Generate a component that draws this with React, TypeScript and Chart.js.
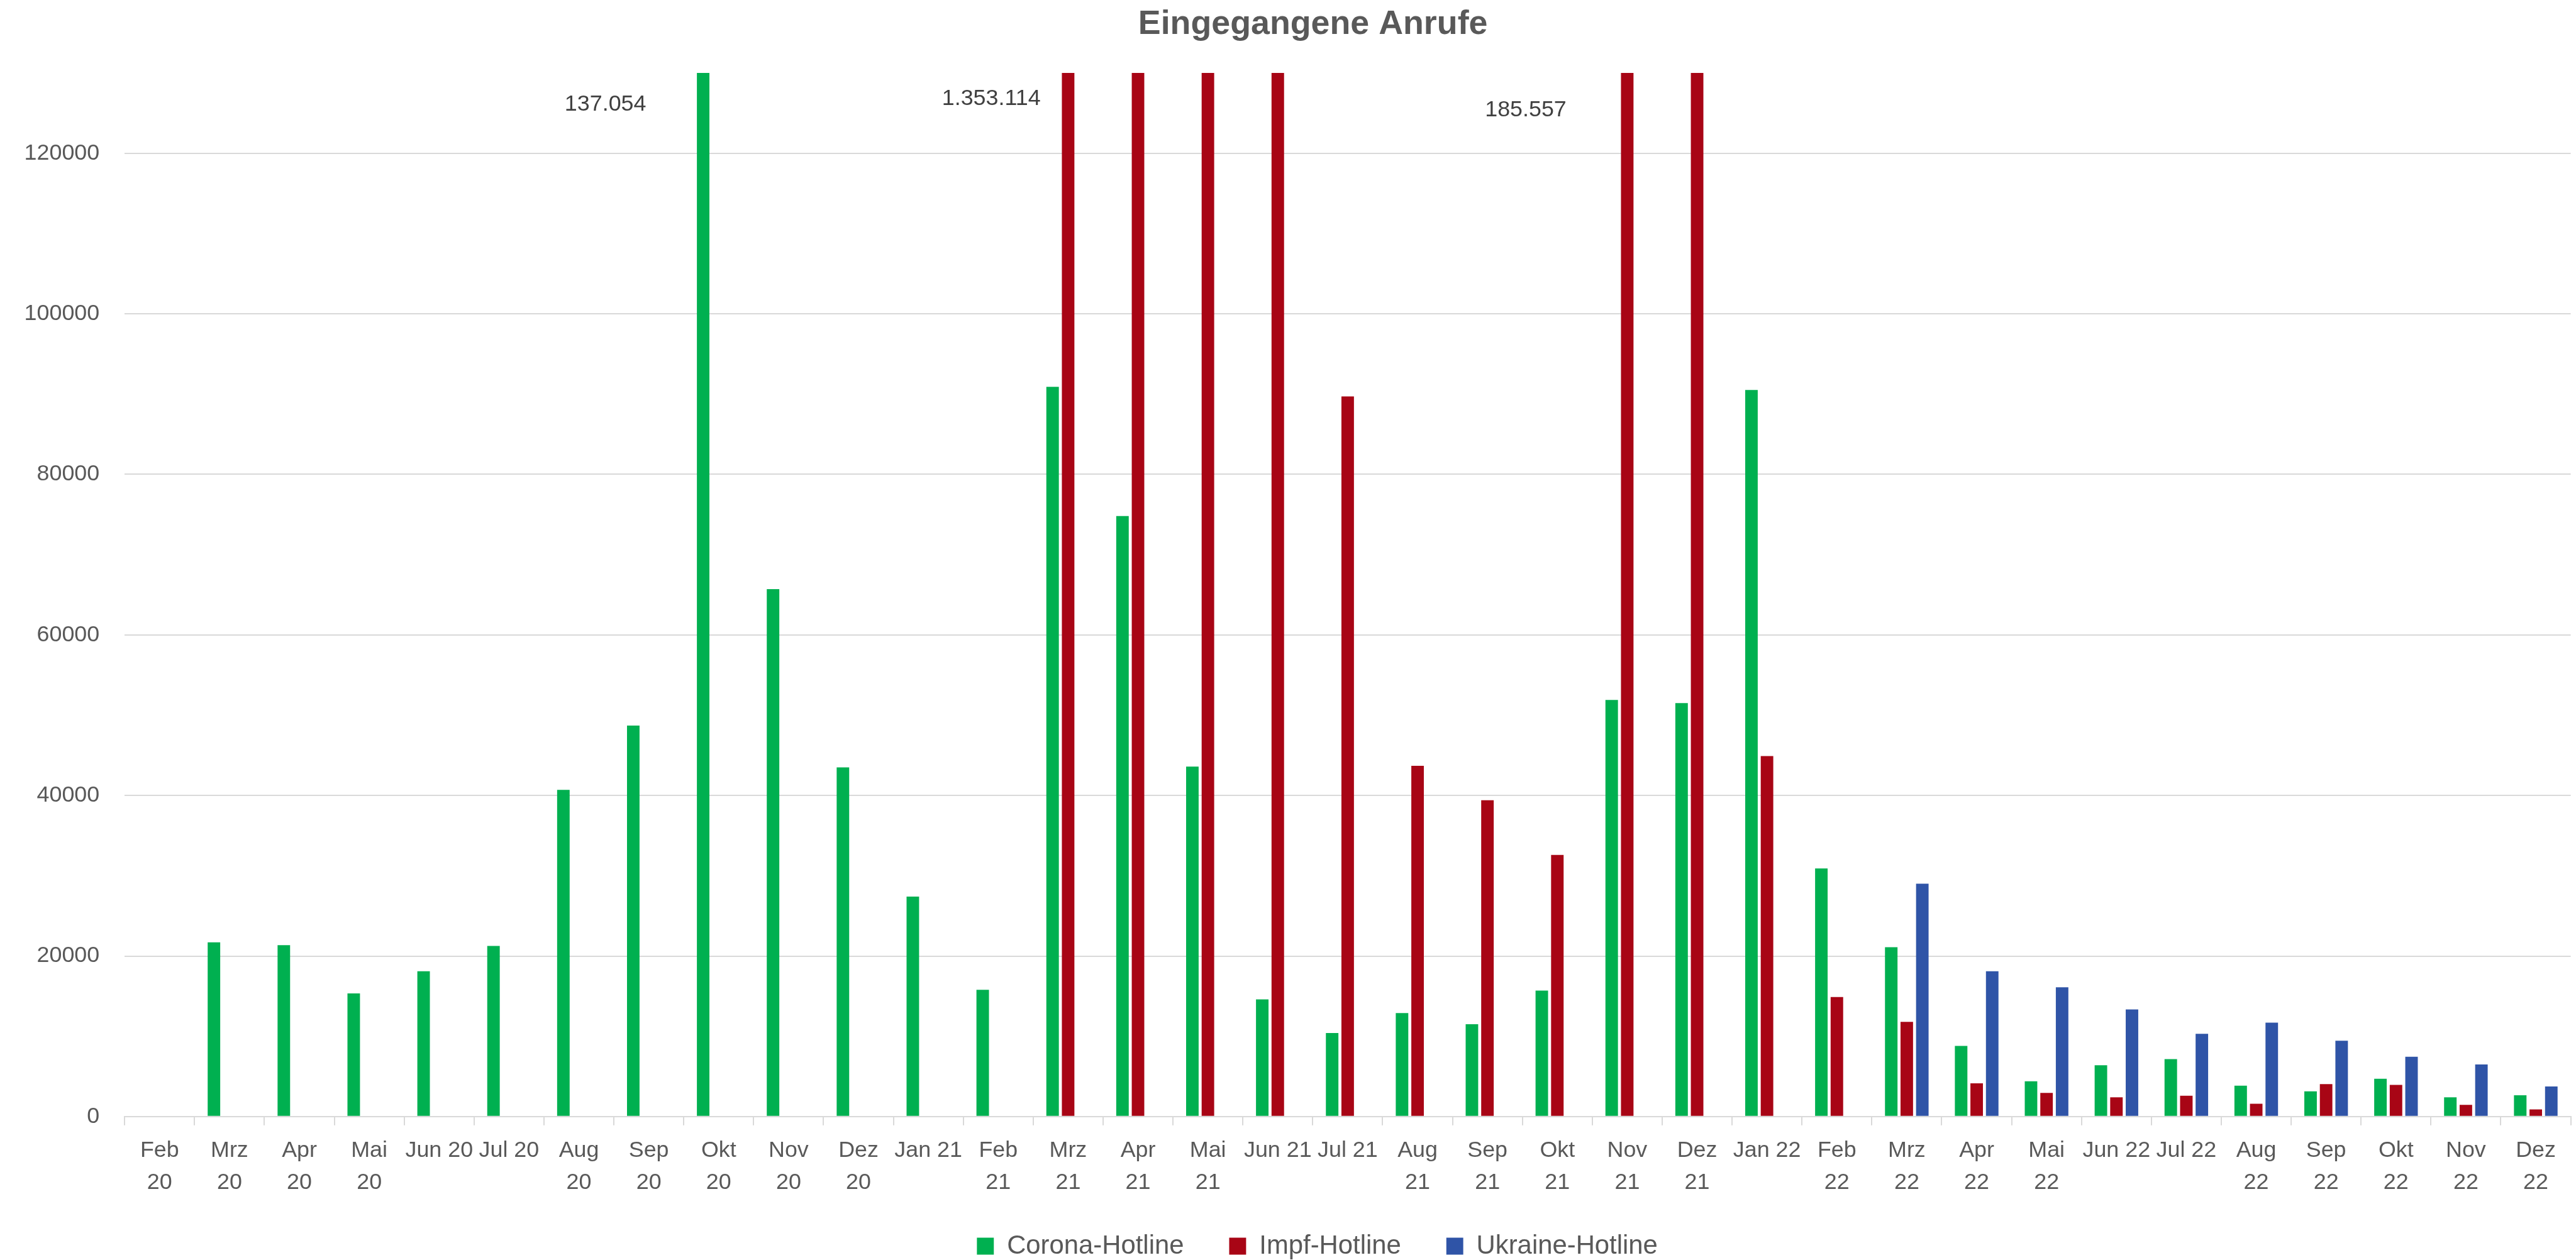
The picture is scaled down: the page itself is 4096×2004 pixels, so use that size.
import React, { useEffect, useRef } from 'react';
import { Chart, registerables } from 'chart.js';

Chart.register(...registerables);

const S = 0.996;
const FONT = "'Liberation Sans', Arial, sans-serif";

const categories = [
  'Feb 20', 'Mrz 20', 'Apr 20', 'Mai 20', 'Jun 20', 'Jul 20', 'Aug 20', 'Sep 20', 'Okt 20', 'Nov 20', 'Dez 20',
  'Jan 21', 'Feb 21', 'Mrz 21', 'Apr 21', 'Mai 21', 'Jun 21', 'Jul 21', 'Aug 21', 'Sep 21', 'Okt 21', 'Nov 21', 'Dez 21',
  'Jan 22', 'Feb 22', 'Mrz 22', 'Apr 22', 'Mai 22', 'Jun 22', 'Jul 22', 'Aug 22', 'Sep 22', 'Okt 22', 'Nov 22', 'Dez 22',
];

// tick labels as displayed (wrapped where the original wraps)
const tickLabels: (string | string[])[] = [
  ['Feb', '20'], ['Mrz', '20'], ['Apr', '20'], ['Mai', '20'], 'Jun 20', 'Jul 20', ['Aug', '20'], ['Sep', '20'], ['Okt', '20'], ['Nov', '20'], ['Dez', '20'],
  'Jan 21', ['Feb', '21'], ['Mrz', '21'], ['Apr', '21'], ['Mai', '21'], 'Jun 21', 'Jul 21', ['Aug', '21'], ['Sep', '21'], ['Okt', '21'], ['Nov', '21'], ['Dez', '21'],
  'Jan 22', ['Feb', '22'], ['Mrz', '22'], ['Apr', '22'], ['Mai', '22'], 'Jun 22', 'Jul 22', ['Aug', '22'], ['Sep', '22'], ['Okt', '22'], ['Nov', '22'], ['Dez', '22'],
];

const coronaHotline: (number | null)[] = [
  null, 21700, 21350, 15350, 18100, 21250, 40700, 48700, 137054, 65700, 43500,
  27400, 15800, 90900, 74800, 43600, 14600, 10400, 12900, 11500, 15700, 51900, 51500,
  90500, 30900, 21100, 8800, 4400, 6400, 7150, 3850, 3150, 4700, 2400, 2650,
];

const impfHotline: (number | null)[] = [
  null, null, null, null, null, null, null, null, null, null, null,
  null, null, 1353114, 650000, 480000, 210000, 89700, 43700, 39400, 32600, 185557, 160000,
  44900, 14900, 11800, 4150, 2950, 2400, 2600, 1600, 4050, 3950, 1450, 900,
];

const ukraineHotline: (number | null)[] = [
  null, null, null, null, null, null, null, null, null, null, null,
  null, null, null, null, null, null, null, null, null, null, null, null,
  null, null, 29000, 18100, 16100, 13350, 10300, 11700, 9450, 7450, 6500, 3750,
];

const seriesNames = ['Corona-Hotline', 'Impf-Hotline', 'Ukraine-Hotline'];
const seriesColors = ['#00B050', '#A80515', '#2F54A7'];

const yMin = 0;
const yMax = 130000;
const yTickValues = [0, 20000, 40000, 60000, 80000, 100000, 120000];

const chartTitle = 'Eingegangene Anrufe';

// which clipped bars get their value written beside them (dataset, category)
const valueNotes = [
  { dataset: 0, index: 8 },
  { dataset: 1, index: 13 },
  { dataset: 1, index: 21 },
];
// placement of those notes (px offsets relative to bar centre / plot top)
const notePlacement = [
  { dx: -91, dy: 50 },
  { dx: -44, dy: 41 },
  { dx: -97, dy: 59 },
];

const LEGEND_PAD = 72;
const LEGEND_FONT = 42 * S;

function formatDe(v: number): string {
  return String(Math.round(v)).replace(/\B(?=(\d{3})+(?!\d))/g, '.');
}

const notesPlugin = {
  id: 'clippedValueNotes',
  afterDatasetsDraw(chart: any) {
    const { ctx, chartArea } = chart;
    ctx.save();
    ctx.font = `${36 * S}px ${FONT}`;
    ctx.fillStyle = '#404040';
    ctx.textAlign = 'right';
    ctx.textBaseline = 'middle';
    valueNotes.forEach((n, i) => {
      const el = chart.getDatasetMeta(n.dataset).data[n.index];
      const v = chart.data.datasets[n.dataset].data[n.index];
      if (!el || v == null) return;
      const p = notePlacement[i];
      ctx.fillText(formatDe(v), el.x + p.dx * S, chartArea.top + p.dy * S);
    });
    ctx.restore();
  },
};

// shift title and legend to where the original has them
const placementPlugin = {
  id: 'boxPlacement',
  afterLayout(chart: any) {
    const W = chart.width;
    const legend = chart.legend;
    if (legend) {
      const cur = (legend.left + legend.right) / 2;
      const dx = 2103 * S - cur;
      legend.left += dx;
      legend.right += dx;
      const targetMid = 1990 * S;
      legend.top = targetMid - LEGEND_PAD - LEGEND_FONT / 2;
      legend.bottom = legend.top + LEGEND_FONT + LEGEND_PAD + 10;
    }
    const title = chart.titleBlock;
    if (title) {
      const cur = (title.left + title.right) / 2;
      const dx = 2096 * S - cur;
      title.left += dx;
      title.right += dx;
    }
    void W;
  },
};

export default function App() {
  const canvasRef = useRef<HTMLCanvasElement | null>(null);

  useEffect(() => {
    const canvas = canvasRef.current;
    if (!canvas) return;
    const seriesData = [coronaHotline, impfHotline, ukraineHotline];

    const chart = new Chart(canvas, {
      type: 'bar',
      data: {
        labels: tickLabels as any,
        datasets: seriesData.map((d, i) => ({
          label: seriesNames[i],
          data: d,
          backgroundColor: seriesColors[i],
          borderWidth: 0,
          categoryPercentage: 0.667,
          barPercentage: 0.806,
          clip: 0,
        })) as any,
      },
      options: {
        responsive: false,
        animation: false,
        devicePixelRatio: 1,
        events: [],
        layout: {
          padding: { left: 0, right: 8.4, top: 0, bottom: 0 },
        },
        plugins: {
          title: {
            display: true,
            text: chartTitle,
            color: '#595959',
            font: { family: FONT, size: 54 * S, weight: 'bold', lineHeight: 1.2 },
            padding: { top: 7, bottom: 44.5 },
          },
          legend: {
            display: true,
            position: 'bottom',
            maxHeight: 88,
            labels: {
              color: '#595959',
              font: { family: FONT, size: LEGEND_FONT },
              boxWidth: 27 * S,
              boxHeight: 27 * S,
              padding: LEGEND_PAD,
            },
          },
          tooltip: { enabled: false },
        },
        scales: {
          x: {
            type: 'category',
            offset: true,
            grid: {
              display: true,
              offset: true,
              drawOnChartArea: false,
              drawTicks: true,
              tickLength: 14 * S,
              color: '#D9D9D9',
              lineWidth: 2,
            },
            border: { display: true, color: '#D9D9D9', width: 2 },
            ticks: {
              color: '#595959',
              font: { family: FONT, size: 36 * S, lineHeight: 52 / 36 },
              padding: 14,
              autoSkip: false,
              maxRotation: 0,
              minRotation: 0,
            },
            afterFit: (scale: any) => {
              scale.height = 2004 - 88 - 1783 * S;
            },
          },
          y: {
            type: 'linear',
            min: yMin,
            max: yMax,
            grid: {
              display: true,
              drawTicks: false,
              color: '#D9D9D9',
              lineWidth: 2,
            },
            border: { display: false },
            ticks: {
              color: '#595959',
              font: { family: FONT, size: 36 * S },
              padding: 40,
              callback: (v: any) => String(v),
            },
            afterBuildTicks: (scale: any) => {
              scale.ticks = yTickValues.map((v) => ({ value: v }));
            },
            afterFit: (scale: any) => {
              scale.width = 199 * S;
            },
          },
        },
      } as any,
      plugins: [notesPlugin, placementPlugin],
    });

    return () => {
      chart.destroy();
    };
  }, []);

  return (
    <div style={{ position: 'fixed', left: 0, top: 0, width: 4096, height: 2004, background: '#ffffff' }}>
      <canvas ref={canvasRef} width={4096} height={2004} style={{ display: 'block', width: 4096, height: 2004 }} />
    </div>
  );
}
